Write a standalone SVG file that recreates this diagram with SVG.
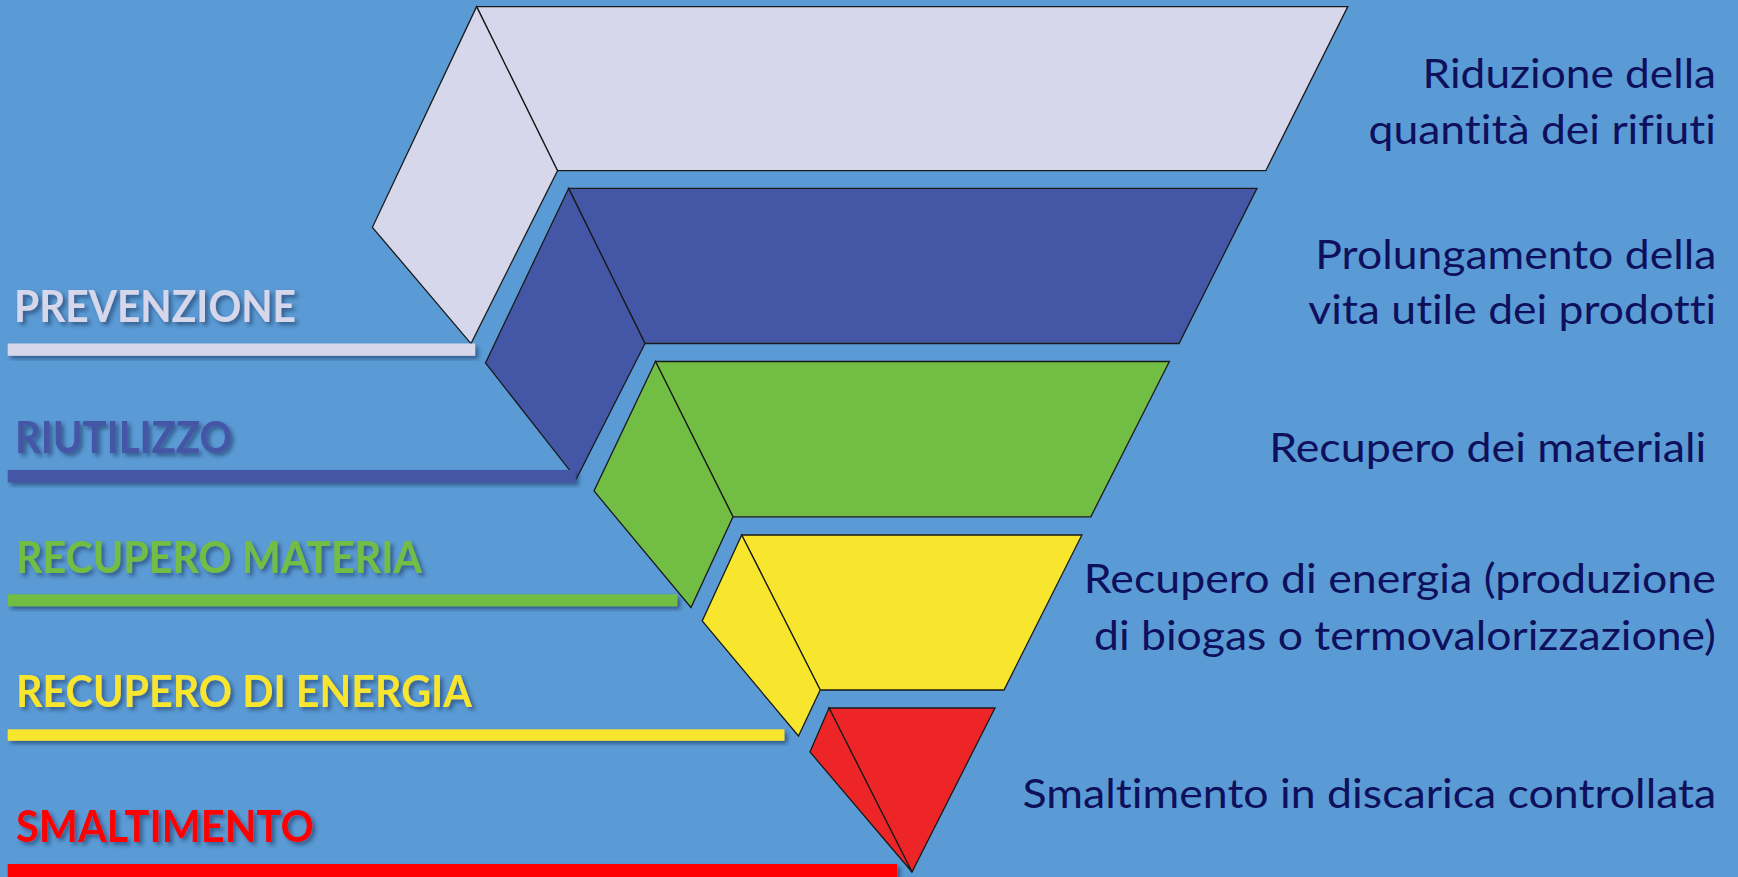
<svg xmlns="http://www.w3.org/2000/svg" width="1738" height="877" viewBox="0 0 1738 877">
<defs>
<filter id="sh" x="-5%" y="-20%" width="115%" height="160%">
<feDropShadow dx="3" dy="3" stdDeviation="2" flood-color="#1d3a66" flood-opacity="0.65"/>
</filter>
<style>
.face{stroke:#1a1a1a;stroke-width:1.3;stroke-linejoin:miter}
.lbl{font-family:Lato,"Open Sans","Liberation Sans",sans-serif;font-weight:bold;font-size:43px;font-variant-ligatures:none;font-feature-settings:"liga" 0}
.desc{font-family:Lato,"Open Sans","Liberation Sans",sans-serif;font-size:41px;fill:#0f105c;font-variant-ligatures:none;font-feature-settings:"liga" 0}
.w{fill:#d6d7ea}.b{fill:#4457a7}.g{fill:#72be44}.y{fill:#f8e52d}.r{fill:#ee2526}
</style>
</defs>
<rect width="1738" height="877" fill="#5b9bd5"/>

<g id="prevenzione">
<polygon class="face w" points="476.6,6.6 1347.8,6.6 1265.8,170.7 557.5,170.7"/>
<polygon class="face w" points="476.6,6.6 557.5,170.7 471,343.6 372.4,227.3"/>
<rect x="7.7" y="343.5" width="467.5" height="12.3" class="w" filter="url(#sh)"/>
<text class="lbl" x="14" y="321.5" textLength="282" lengthAdjust="spacingAndGlyphs" fill="#d6d7ea" filter="url(#sh)">PREVENZIONE</text>
<text class="desc" x="1422.6" y="88" textLength="293.5" lengthAdjust="spacingAndGlyphs">Riduzione della</text>
<text class="desc" x="1368.5" y="144.3" textLength="347.5" lengthAdjust="spacingAndGlyphs">quantità dei rifiuti</text>
</g>

<g id="riutilizzo">
<polygon class="face b" points="568.6,188.4 1257,188.4 1179,343.5 645,343.5"/>
<polygon class="face b" points="568.6,188.4 645,343.5 576.4,478.8 485.5,363"/>
<rect x="7.7" y="470" width="568" height="12.5" class="b" filter="url(#sh)"/>
<text class="lbl" x="15" y="452.5" textLength="217" lengthAdjust="spacingAndGlyphs" fill="#4457a7" filter="url(#sh)">RIUTILIZZO</text>
<text class="desc" x="1315.3" y="268.5" textLength="401" lengthAdjust="spacingAndGlyphs">Prolungamento della</text>
<text class="desc" x="1308.3" y="324.4" textLength="408" lengthAdjust="spacingAndGlyphs">vita utile dei prodotti</text>
</g>

<g id="recupero-materia">
<polygon class="face g" points="655.5,361.5 1169.4,361.5 1090.8,516.8 733,516.8"/>
<polygon class="face g" points="655.5,361.5 733,516.8 691,607.5 594,491"/>
<rect x="7.7" y="594.3" width="669.6" height="12" class="g" filter="url(#sh)"/>
<text class="lbl" x="16" y="572.5" textLength="406" lengthAdjust="spacingAndGlyphs" fill="#72be44" filter="url(#sh)">RECUPERO MATERIA</text>
<text class="desc" x="1269.2" y="462" textLength="437" lengthAdjust="spacingAndGlyphs">Recupero dei materiali</text>
</g>

<g id="recupero-energia">
<polygon class="face y" points="741.7,535 1081.9,535 1004,690 820.2,690"/>
<polygon class="face y" points="741.7,535 820.2,690 798.5,736 702.2,621"/>
<rect x="7.7" y="729.3" width="776.7" height="11.5" class="y" filter="url(#sh)"/>
<text class="lbl" x="16" y="706.5" textLength="456" lengthAdjust="spacingAndGlyphs" fill="#f8e52d" filter="url(#sh)">RECUPERO DI ENERGIA</text>
<text class="desc" x="1083.8" y="592.8" textLength="632" lengthAdjust="spacingAndGlyphs">Recupero di energia (produzione</text>
<text class="desc" x="1094" y="650.4" textLength="622" lengthAdjust="spacingAndGlyphs">di biogas o termovalorizzazione)</text>
</g>

<g id="smaltimento">
<polygon class="face r" points="829,708 995,708 912,872"/>
<polygon class="face r" points="829,708 912,872 810,752"/>
<rect x="7.7" y="864" width="889.6" height="13" fill="#ff0000" filter="url(#sh)"/>
<text class="lbl" x="16" y="841.5" textLength="298" lengthAdjust="spacingAndGlyphs" fill="#ff0000" filter="url(#sh)">SMALTIMENTO</text>
<text class="desc" x="1022.6" y="808.2" textLength="693.7" lengthAdjust="spacingAndGlyphs">Smaltimento in discarica controllata</text>
</g>
</svg>
